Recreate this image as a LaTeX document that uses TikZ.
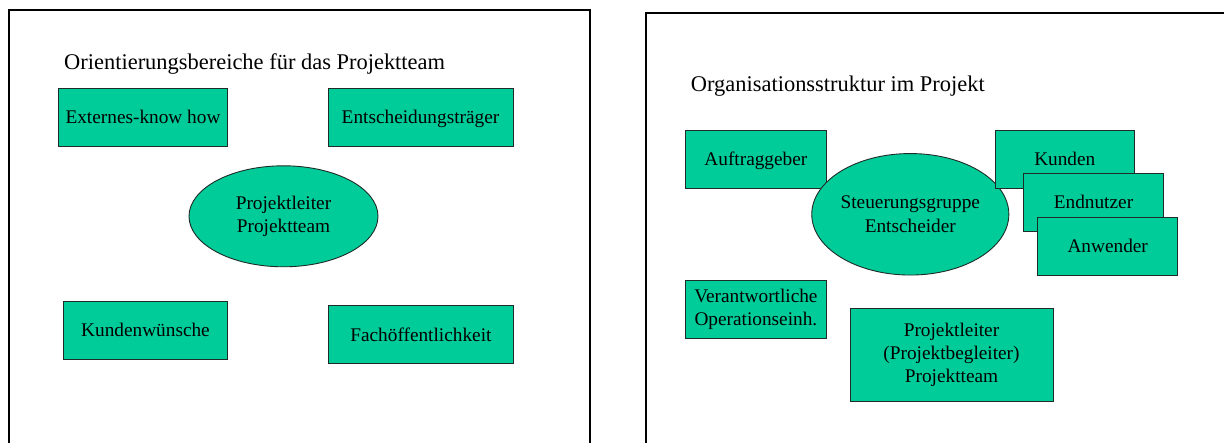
\documentclass[tikz,border=0pt]{standalone}
\usepackage{fontspec}
\setmainfont{Liberation Serif}
\usetikzlibrary{shapes.geometric}
\definecolor{boxfill}{HTML}{00CC99}
\definecolor{boxline}{HTML}{1E2B26}
\tikzset{
  frame/.style={draw=black, line width=1.6pt},
  title/.style={anchor=base west, inner sep=0pt, font=\fontsize{22.45}{27}\selectfont},
  card/.style={draw=boxline, line width=0.9pt, fill=boxfill, inner sep=0pt,
               align=center, font=\fontsize{19.3}{23.2}\selectfont},
  % single-line cards: centre on the capital height, ignore descenders
  oneline/.style={card, text height=12.8pt, text depth=0pt},
  oval/.style={card, ellipse}
}
\begin{document}
\begin{tikzpicture}[x=1pt,y=-1pt]
  \useasboundingbox (0,0) rectangle (1224,443);
  \clip (0,0) rectangle (1224,443);

  % left panel: orientation areas
  \draw[frame] (9,10.3) rectangle (590,470);
  \node[title] (t1) at (64,69.3) {Orientierungsbereiche für das Projektteam};
  \node[oneline, minimum width=169.4pt, minimum height=58pt] (ext) at (143,117.3) {Externes-know how};
  \node[oneline, minimum width=185pt, minimum height=58pt] (ent) at (420.5,117.3) {Entscheidungsträger};
  \node[oval, minimum width=189pt, minimum height=101pt] (pl1) at (283.5,216.3) {Projektleiter\\Projektteam};
  \node[oneline, minimum width=164.4pt, minimum height=58.3pt] (kw) at (145.5,330.2) {Kundenwünsche};
  \node[oneline, minimum width=184.8pt, minimum height=58.3pt] (fach) at (420.9,334.8) {Fachöffentlichkeit};

  % right panel: organisation structure
  \draw[frame] (646,13.3) rectangle (1260,470);
  \node[title] (t2) at (690.7,92) {Organisationsstruktur im Projekt};
  \node[oneline, minimum width=140.7pt, minimum height=58pt] (auf) at (755.9,159) {Auftraggeber};
  \node[oval, minimum width=179.5pt, minimum height=121.5pt] (st) at (910.3,214.3) {Steuerungsgruppe\\Entscheider};
  \node[oneline, minimum width=139.6pt, minimum height=58.3pt] (kun) at (1064.8,159.2) {Kunden};
  \node[oneline, minimum width=139.8pt, minimum height=58pt] (end) at (1093.5,202.3) {Endnutzer};
  \node[oneline, minimum width=140.2pt, minimum height=58.3pt] (anw) at (1107.7,246.2) {Anwender};
  \node[card, minimum width=140.7pt, minimum height=58.3pt] (ver) at (755.9,309.2) {Verantwortliche\\Operationseinh.};
  \node[card, minimum width=203pt, minimum height=92.3pt] (pl2) at (951.5,354.9) {Projektleiter\\(Projektbegleiter)\\Projektteam};
\end{tikzpicture}
\end{document}
